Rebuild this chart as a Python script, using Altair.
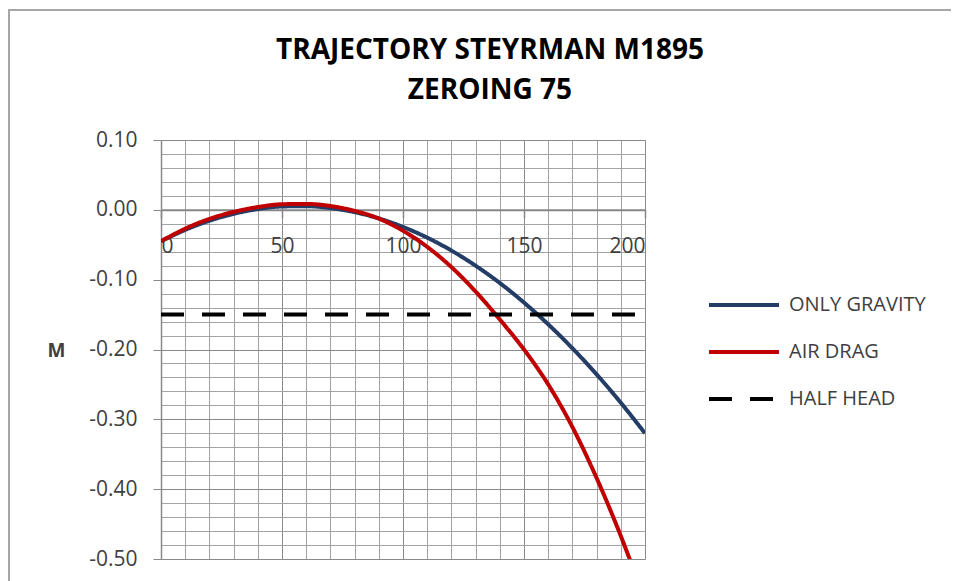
import altair as alt
import pandas as pd

# ---- data ----
distance = [0, 10, 20, 30, 40, 50, 60, 70, 80, 90, 100,
            110, 120, 130, 140, 150, 160, 170, 180, 190, 200]
only_gravity = [-0.045, -0.0287, -0.0156, -0.0057, 0.0011, 0.0048, 0.0052, 0.0025, -0.0033, -0.0123, -0.0245,
                -0.0398, -0.0583, -0.0800, -0.1048, -0.1328, -0.1639, -0.1982, -0.2356, -0.2762, -0.3200]
air_drag = [-0.045, -0.027, -0.013, -0.003, 0.004, 0.008, 0.0085, 0.0055, -0.0015, -0.0125, -0.030,
            -0.053, -0.082, -0.117, -0.157, -0.200, -0.250, -0.311, -0.384, -0.467, -0.560]
half_head_x = [0, 200]
half_head_y = [-0.15, -0.15]

series_names = ["ONLY GRAVITY", "AIR DRAG", "HALF HEAD"]
series_colors = ["#233d66", "#c00000", "#000000"]

x_label_values = [0, 50, 100, 150, 200]
x_grid_values = [0, 10, 20, 30, 40, 50, 60, 70, 80, 90, 100, 110, 120, 130, 140, 150, 160, 170, 180, 190, 200]
y_grid_values = [0.10, 0.08, 0.06, 0.04, 0.02, 0.00, -0.02, -0.04, -0.06, -0.08, -0.10,
                 -0.12, -0.14, -0.16, -0.18, -0.20, -0.22, -0.24, -0.26, -0.28, -0.30,
                 -0.32, -0.34, -0.36, -0.38, -0.40, -0.42, -0.44, -0.46, -0.48, -0.50]

title_lines = ["TRAJECTORY STEYRMAN M1895", "ZEROING 75"]
y_title = "M"

rows = []
for d, v in zip(distance, only_gravity):
    rows.append({"distance": d, "value": v, "series": series_names[0]})
for d, v in zip(distance, air_drag):
    rows.append({"distance": d, "value": v, "series": series_names[1]})
for d, v in zip(half_head_x, half_head_y):
    rows.append({"distance": d, "value": v, "series": series_names[2]})
df = pd.DataFrame(rows)

FONT = "Open Sans"
W, H = 484, 419
MAJOR_GRID = "#8a8a8a"
MINOR_GRID = "#a3a3a3"
TEXT = "#404040"

x_scale = alt.Scale(domain=[0, 200], nice=False, zero=False)
y_scale = alt.Scale(domain=[-0.5, 0.1], nice=False, zero=False)

y_major_test = "abs(datum.value*10 - round(datum.value*10)) < 0.001"
x_major_test = "datum.value % 50 === 0"

y_axis = alt.Axis(
    values=y_grid_values,
    labelExpr=f"{y_major_test} ? ((datum.value < -0.0001 ? '-' : '') + format(abs(datum.value), '.2f')) : ''",
    grid=True,
    gridColor={"condition": {"test": y_major_test, "value": MAJOR_GRID}, "value": MINOR_GRID},
    gridWidth=1,
    tickSize=8,
    tickColor={"condition": {"test": y_major_test, "value": MAJOR_GRID}, "value": "transparent"},
    tickWidth=1,
    domainColor=MAJOR_GRID,
    domainWidth=1.5,
    labelFont=FONT,
    labelFontSize=21,
    labelColor=TEXT,
    labelPadding=16,
    title=y_title,
    titleFont=FONT,
    titleFontSize=19,
    titleFontWeight="bold",
    titleColor=TEXT,
    titleAngle=0,
    titleAlign="right",
    titleBaseline="middle",
    titleX=-96,
    titleY=210,
    zindex=0,
)

x_grid_axis = alt.Axis(
    orient="top",
    values=x_grid_values,
    grid=True,
    gridColor={"condition": {"test": x_major_test, "value": MAJOR_GRID}, "value": MINOR_GRID},
    gridWidth=1,
    labels=False,
    ticks=False,
    domain=False,
    title=None,
    zindex=0,
)

x_label_axis = alt.Axis(
    orient="bottom",
    values=x_label_values,
    offset=-(H * 5 / 6),
    grid=False,
    domainColor="#868686",
    domainWidth=2,
    tickColor="#868686",
    tickSize=8,
    tickWidth=1.5,
    labelFont=FONT,
    labelFontSize=21,
    labelColor=TEXT,
    labelPadding=18,
    title=None,
    zindex=0,
)

legend = alt.Legend(
    title=None,
    orient="none",
    legendX=546,
    legendY=128,
    symbolType="stroke",
    symbolSize=4900,
    symbolStrokeWidth=4,
    rowPadding=-22,
    labelFont=FONT,
    labelFontSize=20,
    labelColor=TEXT,
    labelOffset=8,
    padding=0,
)

lines = alt.Chart(df).mark_line(clip=True, interpolate="monotone").encode(
    x=alt.X("distance:Q", scale=x_scale, axis=x_grid_axis),
    y=alt.Y("value:Q", scale=y_scale, axis=y_axis),
    color=alt.Color("series:N", scale=alt.Scale(domain=series_names, range=series_colors), legend=legend),
    strokeDash=alt.StrokeDash("series:N", scale=alt.Scale(domain=series_names, range=[[1, 0], [1, 0], [23, 18]]), legend=legend),
    strokeWidth=alt.StrokeWidth("series:N", scale=alt.Scale(domain=series_names, range=[4, 4, 5]), legend=None),
)

x_labels = alt.Chart(pd.DataFrame({"distance": x_label_values})).mark_point(opacity=0).encode(
    x=alt.X("distance:Q", scale=x_scale, axis=x_label_axis),
)

frame = alt.Chart(pd.DataFrame({"a": [0]})).mark_rect(
    fill="transparent", stroke="#a6a6a6", strokeWidth=2, clip=False
).encode(
    x=alt.value(-152), x2=alt.value(830), y=alt.value(-130), y2=alt.value(460)
)

chart = alt.layer(x_labels, lines, frame).resolve_axis(x="independent").properties(
    width=W,
    height=H,
    title=alt.TitleParams(
        text=title_lines,
        font=FONT,
        fontSize=28,
        fontWeight="bold",
        color="black",
        lineHeight=40,
        anchor="middle",
        frame="group",
        baseline="bottom",
        dx=87,
        offset=-124,
    ),
    autosize=alt.AutoSizeParams(type="none"),
    padding={"left": 153, "top": 132, "right": 306, "bottom": 22},
).configure_view(stroke=None).configure(background="white")

chart.save("out.html", embed_options={"renderer": "svg", "actions": False})
